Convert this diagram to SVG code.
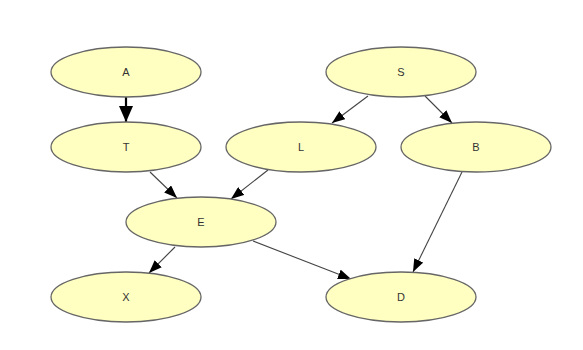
<svg xmlns="http://www.w3.org/2000/svg" width="583" height="350" viewBox="0 0 583 350">
<style>
.node ellipse{fill:#ffffc2;stroke:#666666;stroke-width:1.3}
.node text{font-family:"Liberation Sans",Arial,sans-serif;font-size:11px;fill:#333333;text-anchor:middle;dominant-baseline:central}
.edge{stroke:#444444;stroke-width:1.1;fill:none;marker-end:url(#arr)}
.edge.bold{stroke:#000000;stroke-width:2.2;marker-end:url(#arrBig)}
</style>
<defs>
<marker id="arr" markerUnits="userSpaceOnUse" markerWidth="13" markerHeight="10" refX="13" refY="5" orient="auto">
<path d="M0,0 L13,5 L0,10 Z" fill="#000000"/>
</marker>
<marker id="arrBig" markerUnits="userSpaceOnUse" markerWidth="16" markerHeight="14" refX="16" refY="7" orient="auto">
<path d="M0,0 L16,7 L0,14 Z" fill="#000000"/>
</marker>
</defs>
<rect width="583" height="350" fill="#ffffff"/>
<g id="connectors">
<line class="edge bold" x1="126" y1="97" x2="126" y2="122"/>
<line class="edge" x1="368" y1="96" x2="332" y2="123"/>
<line class="edge" x1="425" y1="96" x2="452" y2="123"/>
<line class="edge" x1="150" y1="172" x2="177" y2="198"/>
<line class="edge" x1="268" y1="170" x2="231" y2="199"/>
<line class="edge" x1="175" y1="247" x2="149" y2="273"/>
<line class="edge" x1="253" y1="241" x2="351" y2="279"/>
<line class="edge" x1="462" y1="172" x2="413" y2="272"/>
</g>
<g id="node-A" class="node"><ellipse cx="126" cy="72" rx="75" ry="25"/><text x="126" y="72">A</text></g>
<g id="node-S" class="node"><ellipse cx="401" cy="72" rx="75" ry="25"/><text x="401" y="72">S</text></g>
<g id="node-T" class="node"><ellipse cx="126" cy="147" rx="75" ry="25"/><text x="126" y="147">T</text></g>
<g id="node-L" class="node"><ellipse cx="301" cy="147" rx="75" ry="25"/><text x="301" y="147">L</text></g>
<g id="node-B" class="node"><ellipse cx="476" cy="147" rx="75" ry="25"/><text x="476" y="147">B</text></g>
<g id="node-E" class="node"><ellipse cx="201" cy="222" rx="75" ry="25"/><text x="201" y="222">E</text></g>
<g id="node-X" class="node"><ellipse cx="126" cy="297" rx="75" ry="25"/><text x="126" y="297">X</text></g>
<g id="node-D" class="node"><ellipse cx="401" cy="297" rx="75" ry="25"/><text x="401" y="297">D</text></g>
</svg>
